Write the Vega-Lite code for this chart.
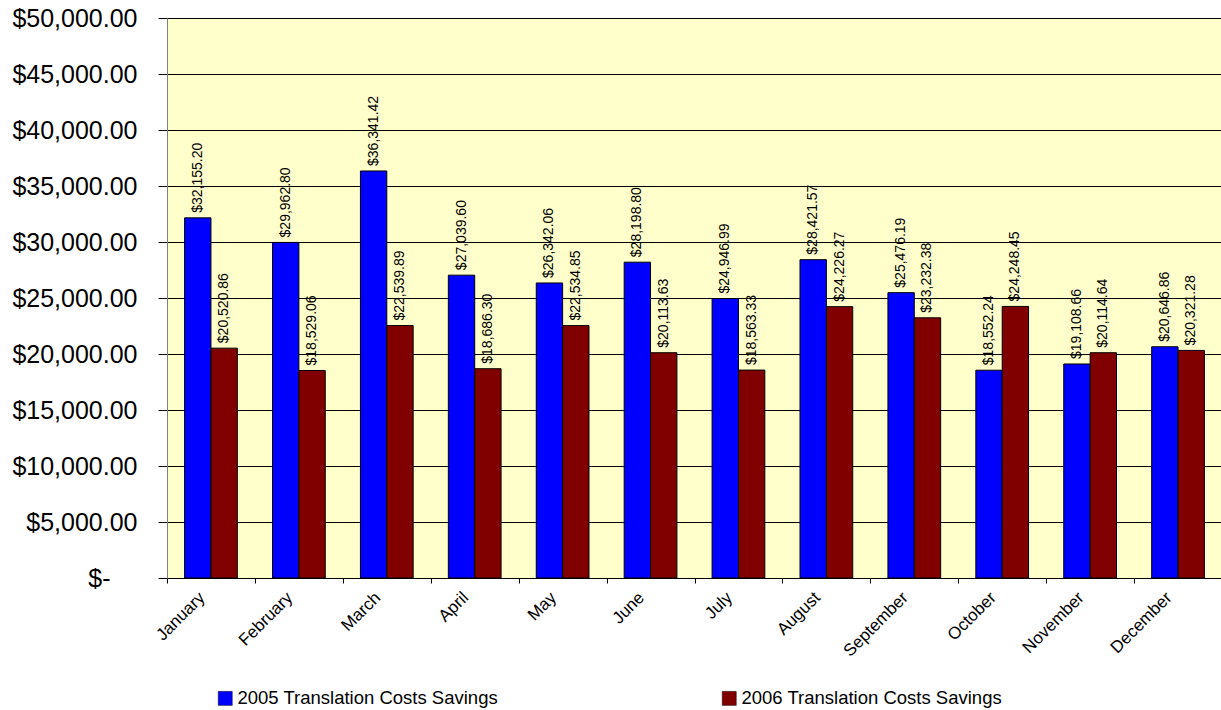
{
  "$schema": "https://vega.github.io/schema/vega-lite/v6.json",
  "width": 1055,
  "height": 560,
  "autosize": {"type": "none"},
  "padding": {"left": 167, "top": 18, "right": 0, "bottom": 132},
  "background": "white",
  "config": {
    "view": {"fill": "#FFFFCC", "stroke": "#808080", "strokeWidth": 1},
    "font": "Liberation Sans"
  },
  "data": {
    "values": [
      {"month": "January", "series": "2005 Translation Costs Savings", "value": 32155.20},
      {"month": "February", "series": "2005 Translation Costs Savings", "value": 29962.80},
      {"month": "March", "series": "2005 Translation Costs Savings", "value": 36341.42},
      {"month": "April", "series": "2005 Translation Costs Savings", "value": 27039.60},
      {"month": "May", "series": "2005 Translation Costs Savings", "value": 26342.06},
      {"month": "June", "series": "2005 Translation Costs Savings", "value": 28198.80},
      {"month": "July", "series": "2005 Translation Costs Savings", "value": 24946.99},
      {"month": "August", "series": "2005 Translation Costs Savings", "value": 28421.57},
      {"month": "September", "series": "2005 Translation Costs Savings", "value": 25476.19},
      {"month": "October", "series": "2005 Translation Costs Savings", "value": 18552.24},
      {"month": "November", "series": "2005 Translation Costs Savings", "value": 19108.66},
      {"month": "December", "series": "2005 Translation Costs Savings", "value": 20646.86},
      {"month": "January", "series": "2006 Translation Costs Savings", "value": 20520.86},
      {"month": "February", "series": "2006 Translation Costs Savings", "value": 18529.06},
      {"month": "March", "series": "2006 Translation Costs Savings", "value": 22539.89},
      {"month": "April", "series": "2006 Translation Costs Savings", "value": 18686.30},
      {"month": "May", "series": "2006 Translation Costs Savings", "value": 22534.85},
      {"month": "June", "series": "2006 Translation Costs Savings", "value": 20113.63},
      {"month": "July", "series": "2006 Translation Costs Savings", "value": 18563.33},
      {"month": "August", "series": "2006 Translation Costs Savings", "value": 24226.27},
      {"month": "September", "series": "2006 Translation Costs Savings", "value": 23232.38},
      {"month": "October", "series": "2006 Translation Costs Savings", "value": 24248.45},
      {"month": "November", "series": "2006 Translation Costs Savings", "value": 20114.64},
      {"month": "December", "series": "2006 Translation Costs Savings", "value": 20321.28}
    ]
  },
  "encoding": {
    "x": {
      "field": "month",
      "type": "nominal",
      "sort": ["January", "February", "March", "April", "May", "June", "July", "August", "September", "October", "November", "December"],
      "scale": {"paddingInner": 0, "paddingOuter": 0},
      "axis": {
        "title": null,
        "labelAngle": -45,
        "labelFontSize": 17,
        "labelFont": "Liberation Sans",
        "labelColor": "#000000",
        "labelOffset": -15,
        "tickBand": "extent",
        "tickSize": 5,
        "tickColor": "#000000",
        "domainColor": "#000000",
        "labelPadding": 6,
        "grid": false
      }
    },
    "xOffset": {
      "field": "series",
      "type": "nominal",
      "scale": {"paddingInner": 0, "paddingOuter": 0.667}
    },
    "y": {
      "field": "value",
      "type": "quantitative",
      "scale": {"domain": [0, 50000]},
      "axis": {
        "title": null,
        "values": [0, 5000, 10000, 15000, 20000, 25000, 30000, 35000, 40000, 45000, 50000],
        "labelExpr": "datum.value == 0 ? '$-' : '$' + format(datum.value, ',.2f')",
        "labelFontSize": 25,
        "labelFont": "Liberation Sans",
        "labelColor": "#000000",
        "labelPadding": {"condition": {"test": "datum.value == 0", "value": 48}, "value": 21},
        "tickSize": 9,
        "tickColor": "#000000",
        "domainColor": "#808080",
        "grid": true,
        "gridColor": "#000000",
        "gridOpacity": 1,
        "gridWidth": 1
      }
    }
  },
  "layer": [
    {
      "mark": {"type": "bar", "stroke": "#000000", "strokeWidth": 1},
      "encoding": {
        "color": {
          "field": "series",
          "type": "nominal",
          "scale": {"range": ["#0000FF", "#800000"]},
          "legend": {
            "orient": "none",
            "legendX": 49,
            "legendY": 671,
            "direction": "horizontal",
            "title": null,
            "symbolType": "square",
            "symbolSize": 196,
            "symbolStrokeColor": "#000000",
            "symbolStrokeWidth": 0.5,
            "labelFontSize": 18.5,
            "labelFont": "Liberation Sans",
            "labelColor": "#000000",
            "columnPadding": 221,
            "labelLimit": 400,
            "labelOffset": 3
          }
        }
      }
    },
    {
      "mark": {"type": "text", "angle": -90, "align": "left", "baseline": "middle", "dx": 5, "fontSize": 14, "font": "Liberation Sans", "color": "#000000"},
      "encoding": {
        "text": {"field": "value", "type": "quantitative", "format": "$,.2f"}
      }
    }
  ]
}
